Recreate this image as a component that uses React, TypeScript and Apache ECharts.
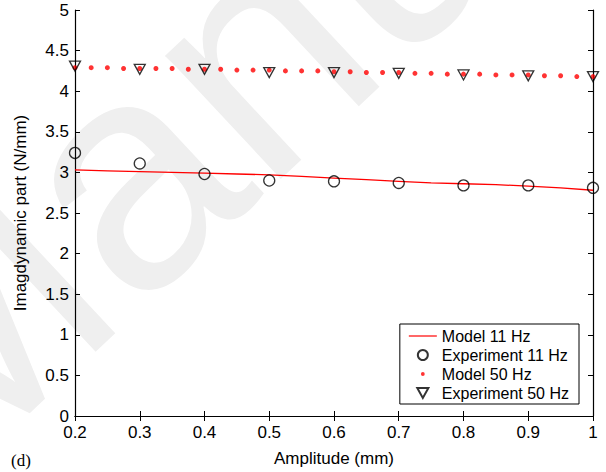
import React, { useEffect, useRef } from "react";
import * as echarts from "echarts";

const expX = [0.2, 0.3, 0.4, 0.5, 0.6, 0.7, 0.8, 0.9, 1.0];
const exp11 = [3.24, 3.11, 2.98, 2.9, 2.89, 2.87, 2.84, 2.84, 2.81];
const exp50 = [4.31, 4.27, 4.27, 4.23, 4.23, 4.22, 4.2, 4.19, 4.18];

const model11X = [0.2, 0.25, 0.3, 0.35, 0.4, 0.45, 0.5, 0.55, 0.6, 0.65, 0.7, 0.75, 0.8, 0.85, 0.9, 0.95, 1.0];
const model11 = [3.03, 3.02, 3.01, 3.0, 2.99, 2.98, 2.97, 2.95, 2.93, 2.91, 2.89, 2.87, 2.86, 2.85, 2.83, 2.81, 2.78];

const model50X = [
  0.2, 0.225, 0.25, 0.275, 0.3, 0.325, 0.35, 0.375, 0.4, 0.425, 0.45, 0.475, 0.5,
  0.525, 0.55, 0.575, 0.6, 0.625, 0.65, 0.675, 0.7, 0.725, 0.75, 0.775, 0.8,
  0.825, 0.85, 0.875, 0.9, 0.925, 0.95, 0.975, 1.0,
];
const model50 = [
  4.29, 4.29, 4.29, 4.28, 4.28, 4.28, 4.28, 4.27, 4.27, 4.27, 4.26, 4.26, 4.26,
  4.25, 4.25, 4.25, 4.24, 4.24, 4.23, 4.23, 4.23, 4.22, 4.22, 4.21, 4.21,
  4.21, 4.2, 4.2, 4.2, 4.19, 4.19, 4.18, 4.18,
];

const FONT = "Liberation Sans, Arial, Helvetica, sans-serif";
const TRI = "path://M0,0 L10,0 L5,9 Z";
const LINE_ICON = "path://M0,4.4 L28,4.4 L28,5.6 L0,5.6 Z";
const DOT_ICON =
  "path://M0,0 L0.001,0 L0,0.001 Z M10,10 L10.001,10 L10,10.001 Z M5,3.1 A1.9,1.9 0 1 1 5,6.9 A1.9,1.9 0 1 1 5,3.1 Z";

export default function App() {
  const ref = useRef<HTMLDivElement>(null);
  useEffect(() => {
    if (!ref.current) return;
    const chart = echarts.init(ref.current, undefined, { renderer: "svg" });
    const axisCommon = {
      type: "value" as const,
      axisLine: { show: true, lineStyle: { color: "#000", width: 1.2 } },
      splitLine: { show: false },
      axisTick: { show: true, inside: true, length: 5, lineStyle: { color: "#000", width: 1 } },
    };
    const theta = (43 * Math.PI) / 180;
    chart.setOption({
      animation: false,
      backgroundColor: "#fff",
      textStyle: { fontFamily: FONT },
      grid: { left: 75, right: 13, top: 10, bottom: 56 },
      graphic: [
        {
          type: "text",
          z: -10,
          x: -27,
          y: 533,
          rotation: theta,
          silent: true,
          style: {
            text: "Manuscript",
            fontSize: 320,
            fontFamily: FONT,
            fill: "#efefef",
            verticalAlign: "bottom",
          },
        },
        {
          type: "text",
          left: 11,
          top: 452,
          style: { text: "(d)", fontSize: 17, fontFamily: "Liberation Serif, Times New Roman, serif", fill: "#000" },
        },
      ],
      xAxis: [
        {
          ...axisCommon,
          position: "bottom",
          min: 0.2,
          max: 1,
          interval: 0.1,
          name: "Amplitude (mm)",
          nameLocation: "middle",
          nameGap: 34,
          nameTextStyle: { fontSize: 17, color: "#000", fontFamily: FONT },
          axisLabel: {
            fontSize: 17,
            color: "#000",
            margin: 8,
            fontFamily: FONT,
            formatter: (v: number) => (Math.abs(v - 1) < 1e-9 ? "1" : v.toFixed(1)),
          },
        },
        {
          ...axisCommon,
          position: "top",
          min: 0.2,
          max: 1,
          interval: 0.1,
          axisLabel: { show: false },
        },
      ],
      yAxis: [
        {
          ...axisCommon,
          position: "left",
          min: 0,
          max: 5,
          interval: 0.5,
          name: "Imagdynamic part (N/mm)",
          nameLocation: "middle",
          nameGap: 46,
          nameTextStyle: { fontSize: 17, color: "#000", fontFamily: FONT },
          axisLabel: { fontSize: 17, color: "#000", margin: 6, fontFamily: FONT },
        },
        {
          ...axisCommon,
          position: "right",
          min: 0,
          max: 5,
          interval: 0.5,
          axisLabel: { show: false },
        },
      ],
      legend: {
        orient: "vertical",
        right: 27,
        bottom: 68,
        backgroundColor: "#fff",
        borderColor: "#000",
        borderWidth: 1,
        borderRadius: 0,
        padding: [4, 10, 3, 9],
        itemGap: 3,
        itemWidth: 28,
        itemHeight: 10,
        textStyle: { fontSize: 16, color: "#000", fontFamily: FONT },
        data: [
          { name: "Model 11 Hz", icon: LINE_ICON },
          { name: "Experiment 11 Hz" },
          { name: "Model 50 Hz", icon: DOT_ICON },
          { name: "Experiment 50 Hz" },
        ],
      },
      series: [
        {
          name: "Model 11 Hz",
          type: "line",
          symbol: "none",
          lineStyle: { color: "#ff0000", width: 1.3 },
          itemStyle: { color: "#ff0000" },
          data: model11X.map((x, i) => [x, model11[i]]),
          z: 2,
        },
        {
          name: "Experiment 11 Hz",
          type: "scatter",
          symbol: "circle",
          symbolSize: 11,
          itemStyle: { color: "transparent", borderColor: "#000", borderWidth: 1.3 },
          data: expX.map((x, i) => [x, exp11[i]]),
          z: 3,
        },
        {
          name: "Model 50 Hz",
          type: "scatter",
          symbol: "circle",
          symbolSize: 5,
          itemStyle: { color: "#ff0000" },
          data: model50X.map((x, i) => [x, model50[i]]),
          z: 3,
        },
        {
          name: "Experiment 50 Hz",
          type: "scatter",
          symbol: TRI,
          symbolSize: [11, 10],
          itemStyle: { color: "transparent", borderColor: "#000", borderWidth: 1.3 },
          data: expX.map((x, i) => [x, exp50[i]]),
          z: 4,
        },
      ],
    });
    return () => chart.dispose();
  }, []);
  return <div ref={ref} style={{ width: 606, height: 472, position: "absolute", left: 0, top: 0 }} />;
}
